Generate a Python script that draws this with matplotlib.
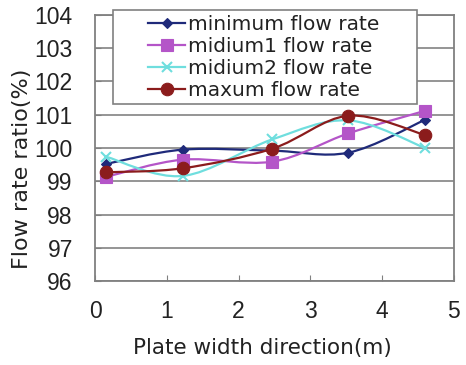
import numpy as np
import matplotlib
matplotlib.use("Agg")
import matplotlib.pyplot as plt
from matplotlib.path import Path
from matplotlib.patches import PathPatch, Rectangle
from matplotlib.lines import Line2D

# data
x_pos = [0.15, 1.22, 2.47, 3.53, 4.60]
minimum = [99.52, 99.95, 99.92, 99.86, 100.85]
midium1 = [99.13, 99.65, 99.59, 100.44, 101.12]
midium2 = [99.74, 99.16, 100.26, 100.83, 100.00]
maxum = [99.27, 99.39, 99.98, 100.97, 100.39]

labels = ["minimum flow rate", "midium1 flow rate", "midium2 flow rate", "maxum flow rate"]
colors = ["#1f2a7a", "#b455c8", "#6fdede", "#8b1c1c"]
markers = ["D", "s", "x", "o"]
msizes = [5, 8, 7, 9]


def smooth_path(xs, ys):
    # excel style smoothed line: catmull-rom segments as cubic beziers
    pts = np.column_stack([xs, ys])
    n = len(pts)
    verts = [pts[0]]
    codes = [Path.MOVETO]
    for i in range(n - 1):
        p0 = pts[max(i - 1, 0)]
        p1 = pts[i]
        p2 = pts[i + 1]
        p3 = pts[min(i + 2, n - 1)]
        c1 = p1 + (p2 - p0) / 6.0
        c2 = p2 - (p3 - p1) / 6.0
        verts += [c1, c2, p2]
        codes += [Path.CURVE4] * 3
    return Path(verts, codes)


fig = plt.figure(figsize=(4.66, 3.65), dpi=100)
ax = fig.add_axes([0.204, 0.230, 0.770, 0.729])

series = [minimum, midium1, midium2, maxum]
handles = []
for ys, lab, c, m, ms in zip(series, labels, colors, markers, msizes):
    ax.add_patch(PathPatch(smooth_path(x_pos, ys), facecolor="none", edgecolor=c, lw=1.6, zorder=3))
    mew = 1.5 if m == "x" else 0.8
    ax.plot(x_pos, ys, ls="none", marker=m, ms=ms, color=c, mec=c, mew=mew, zorder=4)
    handles.append(Line2D([], [], color=c, lw=1.6, marker=m, ms=ms, mec=c, mew=mew))

ax.set_xlim(0, 5)
ax.set_ylim(96, 104)
ax.set_xticks(range(0, 6))
ax.set_yticks(range(96, 105))
ax.grid(axis="y", color="#8c8c8c", lw=1.3)
ax.set_axisbelow(True)
for s in ax.spines.values():
    s.set_color("#808080")
    s.set_linewidth(1.3)

ax.tick_params(axis="both", direction="in", color="#808080", length=4, labelsize=16.5)
ax.tick_params(axis="x", pad=14)
ax.tick_params(axis="y", pad=16)
for t in ax.get_xticklabels() + ax.get_yticklabels():
    t.set_fontfamily("Liberation Sans")
    t.set_color("#222222")

ax.set_xlabel("Plate width direction(m)", fontsize=15.5, color="#222222")
ax.set_ylabel("Flow rate ratio(%)", fontsize=16, color="#222222")
ax.xaxis.set_label_coords(0.465, -0.215)
ax.yaxis.set_label_coords(-0.175, 0.42)

# legend box is wider than its content in the original
frame = Rectangle((0.050, 0.665), 0.847, 0.354, transform=ax.transAxes, facecolor="white",
                  edgecolor="#808080", lw=1.2, zorder=9, clip_on=False)
ax.add_patch(frame)
leg = ax.legend(handles, labels, loc="upper left", bbox_to_anchor=(0.148, 1.0),
                fontsize=14.5, frameon=False, handlelength=1.85, handletextpad=0.15,
                labelspacing=0.15, borderpad=0, borderaxespad=0)
leg.set_zorder(10)
for t in leg.get_texts():
    t.set_color("#222222")

fig.savefig("out.png", dpi=100)
